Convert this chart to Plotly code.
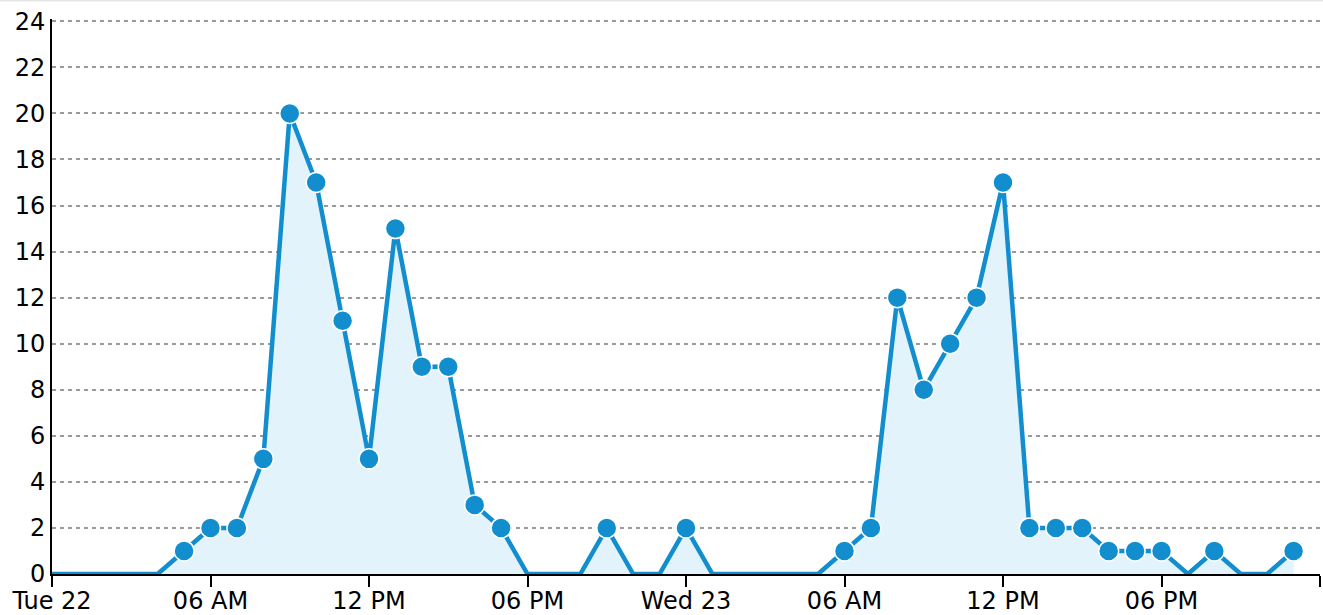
import plotly.graph_objects as go
import pandas as pd

start = pd.Timestamp("2024-10-22 00:00")
hours = list(range(48))
counts = [0, 0, 0, 0, 0, 1, 2, 2, 5, 20, 17, 11, 5, 15, 9, 9, 3, 2, 0, 0, 0, 2, 0, 0,
          2, 0, 0, 0, 0, 0, 1, 2, 12, 8, 10, 12, 17, 2, 2, 2, 1, 1, 1, 0, 1, 0, 0, 1]
tick_hours = [0, 6, 12, 18, 24, 30, 36, 42, 48]
tick_labels = ["Tue 22", "06 AM", "12 PM", "06 PM", "Wed 23", "06 AM", "12 PM", "06 PM", ""]
y_ticks = list(range(0, 25, 2))

times = [start + pd.Timedelta(hours=h) for h in hours]
tick_times = [start + pd.Timedelta(hours=h) for h in tick_hours]

LINE = "#128ecf"
FILL = "#e2f3fc"

fig = go.Figure()
fig.add_trace(go.Scatter(
    x=times, y=counts, mode="lines", fill="tozeroy", fillcolor=FILL,
    line=dict(color=LINE, width=4.5), hoverinfo="skip", showlegend=False,
))
mx = [t for t, c in zip(times, counts) if c != 0]
my = [c for c in counts if c != 0]
fig.add_trace(go.Scatter(
    x=mx, y=my, mode="markers",
    marker=dict(color=LINE, size=20, line=dict(color="white", width=1.5)),
    showlegend=False,
))

fig.update_layout(
    width=1323, height=615,
    margin=dict(l=52, r=3, t=19, b=41),
    paper_bgcolor="white", plot_bgcolor="white",
    font=dict(family="DejaVu Sans", size=24, color="black"),
)
# thin light border at the very top of the page
fig.add_shape(type="line", xref="paper", yref="paper", x0=-0.05, x1=1.01,
              y0=1 + 18.5 / 555, y1=1 + 18.5 / 555,
              line=dict(color="#e6e6e6", width=2))
fig.update_xaxes(
    range=[start, start + pd.Timedelta(hours=48)],
    tickmode="array", tickvals=tick_times, ticktext=tick_labels,
    ticks="outside", ticklen=11, tickwidth=2, tickcolor="black",
    showline=True, linecolor="black", linewidth=2, automargin=False,
    showgrid=False, zeroline=False, tickfont=dict(size=24),
    ticklabelstandoff=-7,
)
fig.update_yaxes(
    range=[0, 24.1], tickmode="array", tickvals=y_ticks, automargin=False,
    showline=True, linecolor="black", linewidth=2,
    showgrid=True, gridcolor="#999999", gridwidth=1.5, griddash="4px,4px",
    zeroline=False, ticks="", ticklabelstandoff=0, tickfont=dict(size=24),
)
fig.write_html(
    "out.html",
    config={"displayModeBar": False},
    post_script="document.body.style.margin='0';document.body.style.overflow='hidden';",
)
